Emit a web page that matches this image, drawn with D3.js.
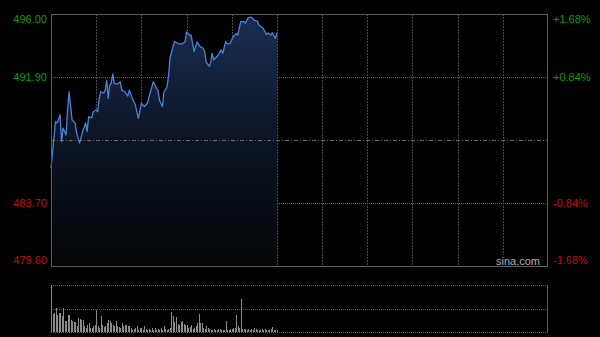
<!DOCTYPE html>
<html>
<head>
<meta charset="utf-8">
<script src="https://cdn.jsdelivr.net/npm/d3@7/dist/d3.min.js"></script>
<style>
    body { margin: 0; background: #000; }
    svg { display: block; }
    text { font-family: "Liberation Sans", Arial, sans-serif; font-size: 11px; }
</style>
</head>
<body>
<script>
// minute index since open (11 half hour blocks = 330 minutes) and price at that minute
const priceMinutes = [0, 3, 4, 6, 7, 8, 10, 11, 12, 14, 16, 17, 19, 21, 23, 24, 25, 27, 28, 30,
    31, 32, 33, 35, 36, 37, 38, 39, 40, 41, 42, 44, 46, 47, 49, 51, 52, 54, 56, 58,
    60, 62, 64, 66, 68, 70, 71, 72, 74, 75, 77, 78, 79, 81, 82, 85, 87, 89, 90, 92,
    93, 95, 97, 99, 101, 102, 103, 105, 106, 107, 108, 111, 113, 114, 116, 117, 119, 121, 123, 124,
    126, 128, 129, 131, 133, 135, 137, 138, 141, 143, 144, 146, 147, 149, 150];
const prices = [485.96, 488.99, 488.91, 489.43, 487.69, 488.58, 488.13, 489.75, 490.94, 489.10,
    488.91, 488.26, 487.60, 488.34, 488.91, 488.34, 489.32, 489.23, 489.64, 489.75,
    489.64, 490.51, 490.94, 490.84, 491.05, 491.70, 490.51, 491.38, 491.49, 492.10,
    491.49, 491.44, 491.59, 491.05, 490.94, 490.66, 491.05, 490.51, 490.08, 489.21,
    490.19, 489.97, 490.19, 490.94, 491.59, 491.16, 491.05, 490.40, 489.97, 490.94,
    491.23, 491.92, 493.12, 493.87, 494.20, 494.05, 494.05, 494.20, 494.83, 494.63,
    494.63, 493.55, 494.18, 493.88, 493.77, 493.55, 492.88, 492.60, 492.83, 493.44,
    493.01, 493.33, 493.66, 493.44, 494.20, 494.05, 494.09, 494.52, 494.74, 494.63,
    495.50, 495.50, 495.39, 495.76, 495.80, 495.59, 495.54, 495.28, 495.06, 494.67,
    494.76, 494.63, 494.76, 494.42, 494.76];

// volume per minute (thousand shares), index = minute
const volumes = [470, 180, 190, 240, 170, 190, 190, 160, 240, 110, 110, 170, 170, 120, 110, 100, 100, 60, 140, 130,
    120, 120, 60, 40, 70, 90, 40, 40, 60, 70, 220, 60, 40, 160, 70, 50, 60, 90, 120, 110,
    90, 70, 60, 110, 60, 50, 40, 90, 60, 70, 70, 60, 60, 40, 20, 30, 40, 60, 20, 40,
    40, 20, 60, 30, 20, 30, 20, 40, 20, 40, 20, 30, 20, 40, 20, 60, 30, 20, 30, 40,
    200, 160, 100, 150, 80, 70, 100, 110, 80, 70, 70, 40, 50, 70, 30, 40, 60, 90, 180, 90,
    90, 40, 30, 60, 40, 30, 20, 20, 30, 20, 20, 30, 30, 20, 20, 20, 110, 20, 20, 30,
    30, 40, 40, 170, 60, 40, 330, 30, 30, 30, 20, 30, 20, 30, 20, 40, 30, 20, 20, 20,
    30, 20, 30, 20, 20, 20, 30, 50, 20, 20, 20];

const prevClose = 487.80;
const priceTicks = [496.00, 491.90, 483.70, 479.60];
const pctTicks = ["+1.68%", "+0.84%", "-0.84%", "-1.68%"];
const totalMinutes = 330;
const blocks = 11;

const width = 600, height = 337;
let margin = { left: 51, right: 52, top: 14 };
const plotBottom = 266;
const volTop = 285, volBottom = 332;

let xScale = d3.scaleLinear()
    .domain([0, totalMinutes])
    .range([margin.left, width - margin.right]);

let yScale = d3.scaleLinear()
    .domain([479.60, 496.00])
    .range([plotBottom, margin.top]);

let volScale = d3.scaleLinear()
    .domain([0, d3.max(volumes)])
    .range([volBottom, volTop]);

let svg = d3.select("body").append("svg")
    .attr("width", width)
    .attr("height", height);

svg.append("rect").attr("width", width).attr("height", height).attr("fill", "#000");

// gradient under the price line
let defs = svg.append("defs");
let grad = defs.append("linearGradient")
    .attr("id", "areaFill")
    .attr("gradientUnits", "userSpaceOnUse")
    .attr("x1", 0).attr("x2", 0)
    .attr("y1", margin.top).attr("y2", plotBottom);
grad.append("stop").attr("offset", 0).attr("stop-color", "#1a2e52");
grad.append("stop").attr("offset", 0.5).attr("stop-color", "#0c1424");
grad.append("stop").attr("offset", 1).attr("stop-color", "#040506");

const x0 = xScale(0), x1 = xScale(totalMinutes);

// vertical grid every half hour
let vgrid = d3.range(1, blocks).map(i => i * totalMinutes / blocks);
svg.append("g").selectAll("line")
    .data(vgrid)
    .join("line")
    .attr("x1", d => Math.round(xScale(d)) + 0.5)
    .attr("x2", d => Math.round(xScale(d)) + 0.5)
    .attr("y1", margin.top)
    .attr("y2", plotBottom)
    .attr("stroke", "#4a4a4a")
    .attr("stroke-dasharray", "2,1");

// horizontal grid
svg.append("g").selectAll("line")
    .data([priceTicks[1], priceTicks[2]])
    .join("line")
    .attr("x1", x0).attr("x2", x1)
    .attr("y1", d => Math.round(yScale(d)) + 0.5)
    .attr("y2", d => Math.round(yScale(d)) + 0.5)
    .attr("stroke", "#5a5a5a")
    .attr("stroke-dasharray", "1,1");

// area + line
let data = priceMinutes.map((m, i) => ({ minute: m, price: prices[i] }));

let area = d3.area()
    .x(d => xScale(d.minute))
    .y0(plotBottom)
    .y1(d => yScale(d.price));

svg.append("path")
    .datum(data)
    .attr("d", area)
    .attr("fill", "url(#areaFill)");

// previous close line
svg.append("line")
    .attr("x1", x0).attr("x2", x1)
    .attr("y1", Math.round(yScale(prevClose)) + 0.5)
    .attr("y2", Math.round(yScale(prevClose)) + 0.5)
    .attr("stroke", "#6a6a6a")
    .attr("stroke-dasharray", "4,2,1,2");

let line = d3.line()
    .x(d => xScale(d.minute))
    .y(d => yScale(d.price));

svg.append("path")
    .datum(data)
    .attr("d", line)
    .attr("fill", "none")
    .attr("stroke", "#4b82dc")
    .attr("stroke-width", 1.3)
    .attr("stroke-linejoin", "round");

// plot border
svg.append("rect")
    .attr("x", x0 + 0.5).attr("y", margin.top + 0.5)
    .attr("width", x1 - x0 - 1).attr("height", plotBottom - margin.top)
    .attr("fill", "none")
    .attr("stroke", "#5c5c5c");

// left price labels, green above prev close, red below
const labelY = (v, i) => {
    let y = yScale(v);
    if (i === 0) return y + 9;
    if (i === priceTicks.length - 1) return y - 2;
    return y + 4;
};
svg.append("g").selectAll("text")
    .data(priceTicks)
    .join("text")
    .attr("x", x0 - 4)
    .attr("y", (d, i) => labelY(d, i))
    .attr("text-anchor", "end")
    .attr("fill", d => d > prevClose ? "#0b9a0b" : "#c40c0c")
    .text(d => d.toFixed(2));

svg.append("g").selectAll("text")
    .data(pctTicks)
    .join("text")
    .attr("x", x1 + 5)
    .attr("y", (d, i) => labelY(priceTicks[i], i))
    .attr("fill", d => d.startsWith("+") ? "#0b9a0b" : "#c40c0c")
    .text(d => d);

// watermark
let wm = svg.append("g");
wm.append("rect")
    .attr("x", 497).attr("y", 255)
    .attr("width", 43).attr("height", 11)
    .attr("fill", "#000");
wm.append("text")
    .attr("x", 518).attr("y", 265)
    .attr("text-anchor", "middle")
    .attr("fill", "#b0b0b0")
    .text("sina.com");

// volume panel
svg.append("g").selectAll("line")
    .data([volTop, (volTop + volBottom) / 2, volBottom])
    .join("line")
    .attr("x1", x0).attr("x2", x1)
    .attr("y1", d => Math.round(d) + 0.5)
    .attr("y2", d => Math.round(d) + 0.5)
    .attr("stroke", "#5a5a5a")
    .attr("stroke-dasharray", "1,1");

svg.append("line")
    .attr("x1", x1 - 0.5).attr("x2", x1 - 0.5)
    .attr("y1", volTop).attr("y2", volBottom + 1)
    .attr("stroke", "#5c5c5c");
svg.append("line")
    .attr("x1", x0 + 0.5).attr("x2", x0 + 0.5)
    .attr("y1", volTop).attr("y2", volBottom + 1)
    .attr("stroke", "#5c5c5c");

svg.append("g").selectAll("rect")
    .data(volumes)
    .join("rect")
    .attr("x", (d, i) => Math.round(xScale(i)))
    .attr("y", d => volScale(d))
    .attr("width", 1)
    .attr("height", d => volBottom - volScale(d))
    .attr("fill", "#8c8c8c");
</script>
</body>
</html>
